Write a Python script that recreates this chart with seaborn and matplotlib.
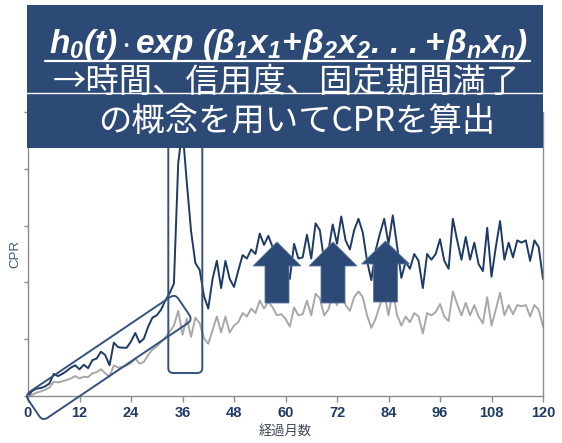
import matplotlib
matplotlib.use("Agg")
import matplotlib.pyplot as plt
import matplotlib.transforms as mtransforms
from matplotlib.patches import Rectangle, FancyBboxPatch, Polygon
from matplotlib.lines import Line2D
import pandas as pd
import seaborn as sns

# ---- data -------------------------------------------------------------
months = list(range(0, 121))

cpr_model = [
    0.0, 0.45, 0.65, 0.7, 0.85, 1.1, 1.95, 1.75, 1.95, 2.2,
    2.5, 2.7, 2.35, 2.75, 2.45, 3.15, 3.3, 3.9, 3.6, 2.7,
    4.7, 4.3, 4.25, 4.25, 4.8, 5.55, 4.7, 5.05, 6.1, 6.9,
    7.1, 7.6, 8.4, 9.05, 9.9, 20.5, 23.5, 18.8, 14.5, 11.7,
    11.1, 8.8, 7.7, 10.3, 11.9, 9.5, 11.9, 10.3, 9.6, 11.05,
    12.4, 12.1, 12.9, 12.5, 14.3, 13.3, 14.1, 13.1, 12.6, 12.0,
    11.6, 10.3, 13.4, 12.1, 12.2, 14.2, 12.1, 15.2, 14.6, 11.9,
    12.8, 15.1, 13.4, 15.8, 13.7, 12.9, 14.6, 15.6, 14.4, 11.9,
    10.2, 12.8, 14.3, 15.6, 13.4, 15.9, 13.2, 10.4, 11.8, 11.2,
    12.5, 11.9, 9.5, 12.5, 12.0, 12.5, 13.8, 11.9, 11.2, 15.6,
    13.7, 12.0, 14.0, 12.0, 13.5, 11.6, 11.0, 14.8, 10.5, 13.1,
    15.4, 12.0, 13.5, 12.2, 13.7, 13.5, 13.7, 11.9, 13.7, 13.1,
    10.3,
]

cpr_base = [
    0.0, 0.1, 0.3, 0.4, 0.55, 0.75, 1.25, 1.2, 1.3, 1.4,
    1.55, 1.75, 1.55, 1.7, 1.65, 2.0, 2.1, 2.35, 2.0, 1.7,
    2.7, 2.5, 2.55, 2.7, 2.9, 3.3, 2.85, 3.0, 3.6, 4.1,
    4.35, 4.75, 5.15, 5.65, 6.2, 7.5, 5.4, 6.8, 5.2, 6.9,
    6.4, 5.1, 4.6, 5.8, 7.0, 5.6, 7.0, 5.6, 6.2, 6.5,
    7.3, 7.0, 7.7, 7.3, 8.4, 7.7, 8.3, 7.8, 7.1, 7.2,
    6.8, 6.1, 7.8, 7.1, 7.2, 8.4, 7.1, 9.0, 8.6, 7.1,
    7.6, 9.0, 8.0, 9.3, 8.0, 7.5, 8.7, 9.2, 8.7, 7.1,
    6.0, 6.8, 8.0, 9.0, 7.1, 9.3, 7.1, 6.2, 7.0, 6.5,
    7.3, 7.0, 5.5, 7.3, 7.1, 7.4, 8.1, 7.0, 6.6, 9.2,
    8.1, 7.1, 8.2, 7.1, 8.0, 7.0, 6.4, 8.7, 6.2, 7.6,
    9.1, 7.1, 8.0, 7.2, 8.0, 7.9, 8.0, 7.0, 8.0, 7.6,
    6.1,
]

month_ticks = list(range(0, 121, 12))
month_labels = [str(m) for m in month_ticks]
cpr_ticks = [0, 5, 10, 15, 20, 25]

x_label = "経過月数"
y_label = "CPR"
formula = (r"$\mathbfit{h_0(t)}\,\mathbf{\cdot}\,\mathbfit{exp}\ "
           r"\mathbfit{(\beta_1x_1\!+\!\beta_2x_2.\,.\,.\!+\!\beta_nx_n)}$")
banner_line2 = "→時間、信用度、固定期間満了"
banner_line3 = "の概念を用いてCPRを算出"

# ---- style ------------------------------------------------------------
NAVY = "#1E3A66"
GREY = "#A8A8A8"
BOX = "#34527F"
FILL = "#2D4A77"
SPINE = "#8C8C8C"

sns.set_style("white")
plt.rcParams["font.family"] = ["Liberation Sans", "Noto Sans CJK JP", "DejaVu Sans"]
plt.rcParams["mathtext.fontset"] = "custom"
plt.rcParams["mathtext.rm"] = "Liberation Sans"
plt.rcParams["mathtext.it"] = "Liberation Sans:italic"
plt.rcParams["mathtext.bf"] = "Liberation Sans:bold"
plt.rcParams["mathtext.bfit"] = "Liberation Sans:italic:bold"

W, H = 562, 443
fig = plt.figure(figsize=(W / 100, H / 100), dpi=100)
fig.patch.set_facecolor("white")

# pixel frame with origin at the top-left corner
T = mtransforms.Affine2D().scale(1 / W, -1 / H).translate(0, 1) + fig.transFigure

ax = fig.add_axes([28 / W, 1 - 396 / H, 515 / W, 284 / H])

df = pd.DataFrame({
    "month": months + months,
    "cpr": cpr_base + cpr_model,
    "series": ["base"] * len(months) + ["model"] * len(months),
})
sns.lineplot(data=df, x="month", y="cpr", hue="series",
             hue_order=["base", "model"],
             palette={"base": GREY, "model": NAVY},
             linewidth=1.4, legend=False, ax=ax)

ax.set_xlim(0, 120)
ax.set_ylim(0, 25)
ax.set_xticks(month_ticks)
ax.set_xticklabels(month_labels, fontsize=10.5, fontweight="bold", color=NAVY)
ax.set_yticks(cpr_ticks)
ax.set_yticklabels([])
ax.tick_params(axis="x", length=4, width=1, color=SPINE, pad=3, direction="out")
ax.tick_params(axis="y", length=3, width=1, color=SPINE, direction="out")
ax.tick_params(bottom=True, left=True)
for side in ("left", "bottom", "right"):
    ax.spines[side].set_color(SPINE)
    ax.spines[side].set_linewidth(1.0)
ax.spines["top"].set_visible(False)

ax.set_xlabel(x_label, fontsize=9.5, color="#3C4658", labelpad=4,
              family=["Noto Sans CJK JP", "DejaVu Sans"])
ax.set_ylabel(y_label, fontsize=9.5, color="#3B5A86")
ax.yaxis.set_label_coords(-7 / 515, 0.5)

# ---- highlight boxes --------------------------------------------------
# slanted box around the early rise
L, Wb, ang = 181, 31.5, -34
x0, y0 = 25, 395
diag = FancyBboxPatch((x0, y0), L, Wb, boxstyle="round,pad=0,rounding_size=6",
                      fill=False, edgecolor=BOX, linewidth=1.4,
                      transform=mtransforms.Affine2D().rotate_deg_around(x0, y0, ang) + T,
                      zorder=6)
fig.add_artist(diag)

# upright box around the spike
spike = FancyBboxPatch((168.3, 120), 34, 253, boxstyle="round,pad=0,rounding_size=5",
                       fill=False, edgecolor=BOX, linewidth=1.4, transform=T, zorder=6)
fig.add_artist(spike)

# ---- upward arrows ----------------------------------------------------
def up_arrow(cx, apex, base, bottom, shaft=12, head=24):
    pts = [(cx, apex), (cx + head, base), (cx + shaft, base), (cx + shaft, bottom),
           (cx - shaft, bottom), (cx - shaft, base), (cx - head, base)]
    return Polygon(pts, closed=True, facecolor=FILL, edgecolor="#5B77A2",
                   linewidth=0.6, transform=T, zorder=7)

for cx, apex, base, bottom in [(277, 242, 266, 303), (333, 242, 266, 303),
                               (385.5, 241, 264, 302)]:
    fig.add_artist(up_arrow(cx, apex, base, bottom))

# ---- banner -----------------------------------------------------------
fig.add_artist(Rectangle((27, 5), 516, 143, facecolor=FILL, edgecolor="none",
                         transform=T, zorder=10))
fig.add_artist(Line2D([27, 543], [93, 93], color="white", linewidth=1.0,
                      transform=T, zorder=11))

fig.text(288, 45, formula, transform=T, ha="center", va="center",
         fontsize=24, color="white", zorder=12)
fig.add_artist(Line2D([45, 530], [61.5, 61.5], color="white", linewidth=1.6,
                      transform=T, zorder=12))
fig.text(286, 82, banner_line2, transform=T, ha="center", va="center",
         fontsize=24, color="white", zorder=12,
         family=["Noto Sans CJK JP", "DejaVu Sans"])
fig.text(297, 121, banner_line3, transform=T, ha="center", va="center",
         fontsize=24, color="white", zorder=12,
         family=["Noto Sans CJK JP", "DejaVu Sans"])

fig.savefig("out.png", dpi=100)
